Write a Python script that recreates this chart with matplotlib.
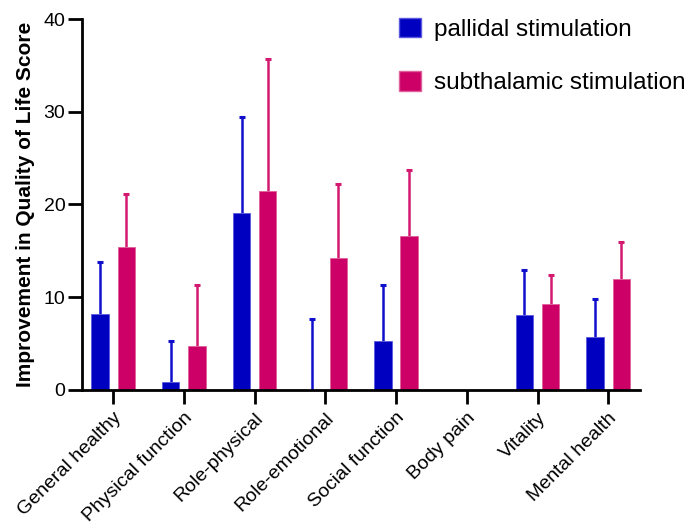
import numpy as np
import matplotlib

matplotlib.use('agg')

import matplotlib.pyplot as plt
from matplotlib.patches import Patch

plt.rcParams['font.family'] = ['Liberation Sans', 'DejaVu Sans']

categories = ['General healthy', 'Physical function', 'Role-physical',
              'Role-emotional', 'Social function', 'Body pain',
              'Vitality', 'Mental health']
pallidal = [8.2, 0.9, 19.05, 0.0, 5.3, 0.0, 8.05, 5.7]
pallidal_err = [5.6, 4.4, 10.35, 7.65, 6.0, 0.0, 4.85, 4.15]
subthalamic = [15.45, 4.75, 21.4, 14.25, 16.6, 0.0, 9.25, 11.95]
subthalamic_err = [5.65, 6.55, 14.3, 7.95, 7.1, 0.0, 3.15, 3.95]

blue = '#0000c0'
pink = '#cc0066'


def upper_errors(ax, xs, vals, errs, col):
    vals = np.array(vals)
    errs = np.array(errs)
    keep = errs > 0
    tops = vals[keep] + errs[keep]
    ax.vlines(xs[keep], vals[keep], tops, color=col, linewidth=1.8, zorder=1)
    ax.plot(xs[keep], tops, linestyle='none', marker='_', markersize=4.5,
            markeredgewidth=2.2, color=col, zorder=1)


def main():
    fig = plt.figure(figsize=(6.98, 5.29), dpi=100)
    ax = fig.add_axes([0.1175, 0.263, 0.7995, 0.701])

    x = np.arange(len(categories))
    off = 0.185
    w = 0.245

    ax.bar(x - off, pallidal, w, color=blue, edgecolor='#5a5ae0',
           linewidth=0.6, zorder=2)
    ax.bar(x + off, subthalamic, w, color=pink, edgecolor='#e0609a',
           linewidth=0.6, zorder=2)

    upper_errors(ax, x - off, pallidal, pallidal_err, '#1010cc')
    upper_errors(ax, x + off, subthalamic, subthalamic_err, '#d41a70')

    ax.set_xlim(-0.44, 7.45)
    ax.set_ylim(0, 40)
    ax.set_yticks([0, 10, 20, 30, 40])
    ax.set_xticks(x)
    ax.set_xticklabels(categories, rotation=45, ha='right',
                       rotation_mode='anchor', fontsize=14)

    for side in ['top', 'right']:
        ax.spines[side].set_visible(False)
    for side in ['left', 'bottom']:
        ax.spines[side].set_linewidth(2)
    ax.tick_params(axis='y', length=10, width=2, labelsize=14, pad=2)
    ax.tick_params(axis='x', length=10, width=2, pad=4)

    ax.set_ylabel('Improvement in Quality of Life Score', fontsize=15,
                  fontweight='bold', labelpad=6)

    handles = [Patch(facecolor=blue, edgecolor='#5a5ae0'),
               Patch(facecolor=pink, edgecolor='#e0609a')]
    fig.legend(handles, ['pallidal stimulation', 'subthalamic stimulation'],
               loc='upper left', bbox_to_anchor=(0.541, 1.008), frameon=False,
               fontsize=17.5, handlelength=0.9, handleheight=0.85,
               handletextpad=0.5, labelspacing=1.25)

    fig.savefig('out.png', dpi=100)


if __name__ == '__main__':
    main()
